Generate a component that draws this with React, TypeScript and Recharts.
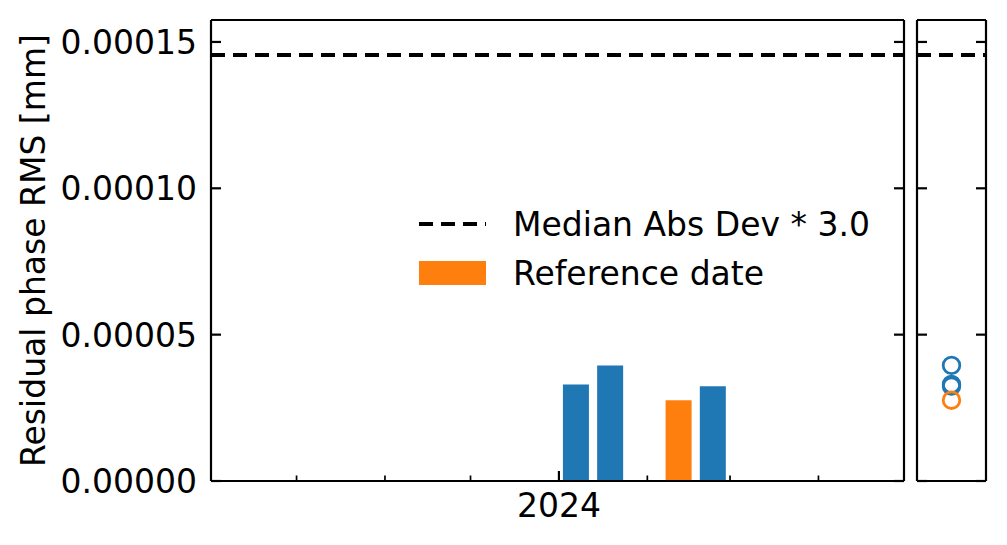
import React from 'react';
import { ComposedChart, Bar, Cell, Scatter, XAxis, YAxis, ReferenceLine, Legend } from 'recharts';

// acquisition dates and residual phase RMS [mm]
const DATES = ['2024-01-07', '2024-01-19', '2024-02-12', '2024-02-24'];
const RMS = [3.3e-5, 3.95e-5, 2.76e-5, 3.24e-5];
const REFERENCE_DATE = '2024-02-12';
const MAD_THRESHOLD = 1.455e-4;

const Y_TICKS = [0, 0.00005, 0.0001, 0.00015];
const Y_MAX = 0.0001575;
const X_RANGE = ['2023-09-01', '2024-05-01'];
const X_TICK_DATES = ['2023-10-01', '2023-11-01', '2023-12-01', '2024-01-01', '2024-02-01', '2024-03-01', '2024-04-01'];
const X_TICK_LABELS = ['', '', '', '2024', '', '', ''];
const LEGEND_LABELS = ['Median Abs Dev * 3.0', 'Reference date'];

const BLUE = '#1f77b4';
const ORANGE = '#ff7f0e';
const FONT = '"DejaVu Sans", sans-serif';
const LW = 2.2;

const toDay = (s: string) =>
  Date.UTC(+s.slice(0, 4), +s.slice(5, 7) - 1, +s.slice(8, 10)) / 86400000;

const xTicks = X_TICK_DATES.map(toDay);
const xDomain = X_RANGE.map(toDay);

const barData = DATES.map((d, i) => ({ t: toDay(d), rms: RMS[i], isReference: d === REFERENCE_DATE }));
const scatterBlue = DATES.map((d, i) => ({ x: 1, y: RMS[i], d })).filter(p => p.d !== REFERENCE_DATE);
const scatterRef = DATES.map((d, i) => ({ x: 1, y: RMS[i], d })).filter(p => p.d === REFERENCE_DATE);

// ticks pointing into the plot, matplotlib style
const leftTickLabelled = (p: any) => (
  <g key={`yl-${p.index}`}>
    <line x1={p.x} x2={p.x + 10} y1={p.y} y2={p.y} stroke="#000" strokeWidth={LW} />
    <text x={p.x - 14} y={p.y + 12} textAnchor="end" fontFamily={FONT} fontSize={33} fill="#000">
      {Number(p.payload.value).toFixed(5)}
    </text>
  </g>
);

const leftTick = (p: any) => (
  <line key={`yt-${p.index}`} x1={p.x} x2={p.x + 10} y1={p.y} y2={p.y} stroke="#000" strokeWidth={LW} />
);

const rightTick = (p: any) => (
  <line key={`yr-${p.index}`} x1={p.x - 10} x2={p.x} y1={p.y} y2={p.y} stroke="#000" strokeWidth={LW} />
);

const bottomTick = (p: any) => {
  const label = X_TICK_LABELS[p.index];
  const len = label ? 10 : 5.5;
  return (
    <g key={`xb-${p.index}`}>
      <line x1={p.x} x2={p.x} y1={p.y} y2={p.y - len} stroke="#000" strokeWidth={label ? LW : 1.7} />
      {label ? (
        <text x={p.x} y={p.y + 36} textAnchor="middle" fontFamily={FONT} fontSize={33} fill="#000">
          {label}
        </text>
      ) : null}
    </g>
  );
};

const topTick = (p: any) => {
  const major = !!X_TICK_LABELS[p.index];
  return (
    <line key={`xt-${p.index}`} x1={p.x} x2={p.x} y1={p.y} y2={p.y + (major ? 10 : 5.5)} stroke="#000" strokeWidth={major ? LW : 1.7} />
  );
};

const renderLegend = () => (
  <svg width={500} height={100}>
    <line x1={0} x2={67} y1={24} y2={24} stroke="#000" strokeWidth={4} strokeDasharray="14 8" />
    <text x={94} y={36} fontFamily={FONT} fontSize={33} fill="#000">{LEGEND_LABELS[0]}</text>
    <rect x={0} y={61} width={67} height={24} fill={ORANGE} />
    <text x={94} y={85} fontFamily={FONT} fontSize={33} fill="#000">{LEGEND_LABELS[1]}</text>
  </svg>
);

const blueRing = (p: any) => <circle cx={p.cx} cy={p.cy} r={8.3} fill="none" stroke={BLUE} strokeWidth={2.8} />;
const orangeRing = (p: any) => <circle cx={p.cx} cy={p.cy} r={8.3} fill="none" stroke={ORANGE} strokeWidth={2.8} />;

const axisLine = { stroke: '#000', strokeWidth: LW };

export default function App() {
  return (
    <div style={{ position: 'absolute', left: 0, top: 0, width: 1007, height: 545, background: '#fff' }}>
      <div style={{ position: 'absolute', left: 0, top: 0 }}>
        <ComposedChart width={1007} height={545} data={barData} margin={{ top: 10, right: 93, bottom: 24, left: 61 }}>
          <XAxis
            dataKey="t"
            type="number"
            domain={xDomain}
            allowDataOverflow
            ticks={xTicks}
            interval={0}
            height={40}
            tickSize={0}
            tickMargin={0}
            tickLine={false}
            axisLine={axisLine}
            tick={bottomTick}
          />
          <XAxis
            xAxisId="top"
            orientation="top"
            type="number"
            domain={xDomain}
            allowDataOverflow
            ticks={xTicks}
            interval={0}
            height={10}
            tickSize={0}
            tickMargin={0}
            tickLine={false}
            axisLine={axisLine}
            tick={topTick}
          />
          <YAxis
            type="number"
            domain={[0, Y_MAX]}
            allowDataOverflow
            ticks={Y_TICKS}
            interval={0}
            width={150}
            tickSize={0}
            tickMargin={0}
            tickLine={false}
            axisLine={axisLine}
            tick={leftTickLabelled}
            label={{
              value: 'Residual phase RMS [mm]',
              angle: -90,
              position: 'center',
              dx: -103,
              fontFamily: FONT,
              fontSize: 33,
              fill: '#000',
            }}
          />
          <YAxis
            yAxisId="right"
            orientation="right"
            type="number"
            domain={[0, Y_MAX]}
            allowDataOverflow
            ticks={Y_TICKS}
            interval={0}
            width={10}
            tickSize={0}
            tickMargin={0}
            tickLine={false}
            axisLine={axisLine}
            tick={rightTick}
          />
          <Bar dataKey="rms" barSize={26} isAnimationActive={false}>
            {barData.map((d, i) => (
              <Cell key={`bar-${i}`} fill={d.isReference ? ORANGE : BLUE} />
            ))}
          </Bar>
          <ReferenceLine y={MAD_THRESHOLD} stroke="#000" strokeWidth={4} strokeDasharray="14 8" />
          <Legend
            layout="vertical"
            align="center"
            verticalAlign="middle"
            wrapperStyle={{ left: 419, top: 200, width: 500, height: 100 }}
            content={renderLegend}
          />
        </ComposedChart>
      </div>

      {/* side panel with the same values as points */}
      <div style={{ position: 'absolute', left: 900, top: 0 }}>
        <ComposedChart width={100} height={545} margin={{ top: 10, right: 4, bottom: 24, left: 7 }}>
          <XAxis dataKey="x" type="number" domain={[0, 2]} allowDataOverflow height={40} tick={false} tickLine={false} axisLine={axisLine} />
          <XAxis xAxisId="top" orientation="top" type="number" domain={[0, 2]} allowDataOverflow height={10} tick={false} tickLine={false} axisLine={axisLine} />
          <YAxis
            dataKey="y"
            type="number"
            domain={[0, Y_MAX]}
            allowDataOverflow
            ticks={Y_TICKS}
            interval={0}
            width={10}
            tickSize={0}
            tickMargin={0}
            tickLine={false}
            axisLine={axisLine}
            tick={leftTick}
          />
          <YAxis
            yAxisId="right"
            orientation="right"
            type="number"
            domain={[0, Y_MAX]}
            allowDataOverflow
            ticks={Y_TICKS}
            interval={0}
            width={10}
            tickSize={0}
            tickMargin={0}
            tickLine={false}
            axisLine={axisLine}
            tick={rightTick}
          />
          <ReferenceLine y={MAD_THRESHOLD} stroke="#000" strokeWidth={4} strokeDasharray="14 8" />
          <Scatter data={scatterBlue} isAnimationActive={false} shape={blueRing} />
          <Scatter data={scatterRef} isAnimationActive={false} shape={orangeRing} />
        </ComposedChart>
      </div>
    </div>
  );
}
